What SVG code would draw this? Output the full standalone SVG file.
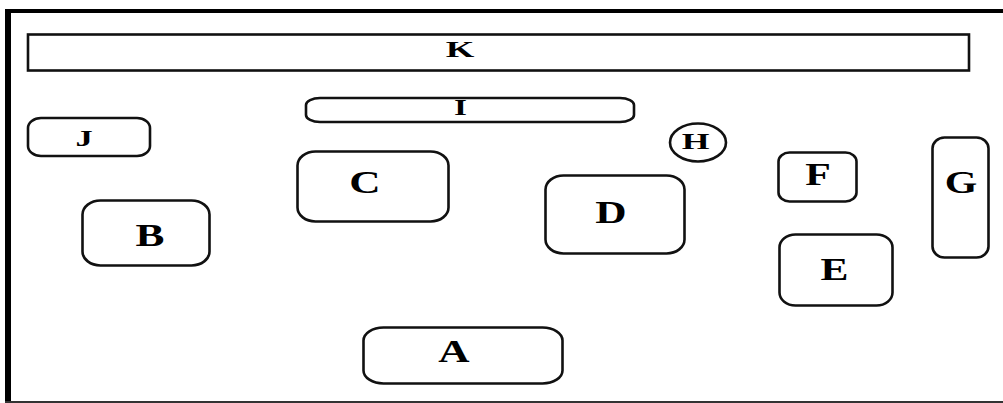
<svg xmlns="http://www.w3.org/2000/svg" width="1003" height="403" viewBox="0 0 1003 403">
<style>
.box{fill:#fff;stroke:#111;stroke-width:2.6}
.big{font-family:"Liberation Serif",serif;font-weight:bold;font-size:31px;text-anchor:middle;fill:#000}
.small{font-family:"Liberation Serif",serif;font-weight:bold;font-size:23px;text-anchor:middle;fill:#000}
</style>
<rect x="0" y="0" width="1003" height="403" fill="#fff"/>
<g id="frame">
<line x1="5" y1="11" x2="1003" y2="11" stroke="#000" stroke-width="4"/>
<line x1="8" y1="9" x2="8" y2="403" stroke="#000" stroke-width="6"/>
<line x1="5" y1="402" x2="1003" y2="402" stroke="#333" stroke-width="2"/>
</g>
<g id="K"><rect class="box" x="28" y="34.5" width="941" height="36" stroke-width="3"/><text class="small" transform="translate(460,57) scale(1.6,1)">K</text></g>
<g id="I"><rect class="box" x="306" y="98" width="328" height="24" rx="14" ry="7"/><text class="small" transform="translate(460.5,115) scale(1.45,1)">I</text></g>
<g id="J"><rect class="box" x="28" y="118" width="122" height="38" rx="13" ry="10"/><text class="small" transform="translate(84,146) scale(1.5,1)">J</text></g>
<g id="H"><ellipse class="box" cx="698" cy="142.5" rx="28" ry="19"/><text class="small" transform="translate(695.5,149) scale(1.55,1)">H</text></g>
<g id="C"><rect class="box" x="297.5" y="151.5" width="151" height="70" rx="18" ry="14"/><text class="big" transform="translate(365,193) scale(1.4,1)">C</text></g>
<g id="B"><rect class="box" x="82.5" y="200.5" width="127" height="65" rx="18" ry="14"/><text class="big" transform="translate(150,246) scale(1.4,1)">B</text></g>
<g id="A"><rect class="box" x="363.5" y="327.5" width="199" height="56" rx="20" ry="13"/><text class="big" transform="translate(454,362) scale(1.4,1)">A</text></g>
<g id="D"><rect class="box" x="545.5" y="175.5" width="139" height="78" rx="18" ry="14"/><text class="big" transform="translate(611,223) scale(1.4,1)">D</text></g>
<g id="F"><rect class="box" x="778.5" y="152.5" width="78" height="49" rx="11" ry="9"/><text class="big" transform="translate(818,185) scale(1.35,1)">F</text></g>
<g id="G"><rect class="box" x="932.5" y="137.5" width="56" height="120" rx="12" ry="11"/><text class="big" transform="translate(961,193) scale(1.35,1)">G</text></g>
<g id="E"><rect class="box" x="779.5" y="234.5" width="113" height="71" rx="16" ry="13"/><text class="big" transform="translate(834.5,280) scale(1.35,1)">E</text></g>
<g id="connectors"/>
</svg>
